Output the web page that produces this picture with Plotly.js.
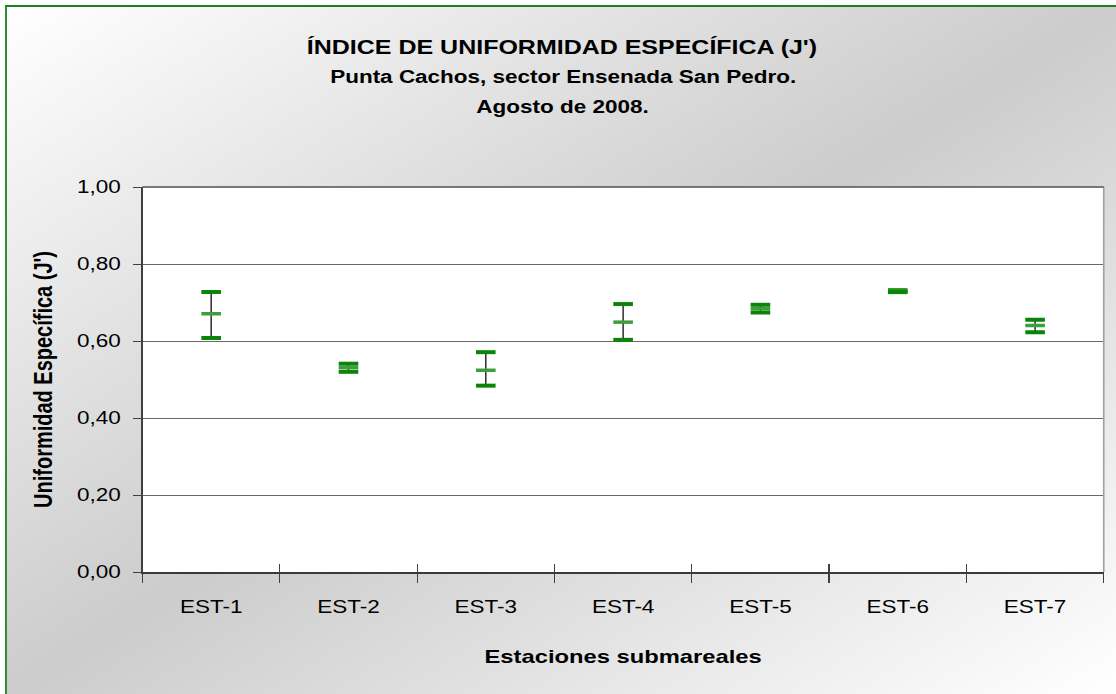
<!DOCTYPE html>
<html>
<head>
<meta charset="utf-8">
<script src="https://cdn.plot.ly/plotly-3.0.1.min.js"></script>
<style>
  html, body { margin: 0; padding: 0; background: #ffffff; overflow: hidden; }
  #bg {
    position: absolute; left: 5px; top: 5px; width: 1111px; height: 689px;
    box-sizing: border-box;
    border-left: 2px solid #2f8f2f; border-top: 2px solid #1f7f1f;
    background: linear-gradient(to bottom right, #ffffff 0%, #cccccc 50%, #ffffff 100%);
  }
  /* the reference is horizontally stretched; reproduce by scaling the chart in x */
  #chart { position: absolute; left: 0; top: 0; width: 893px; height: 694px;
           transform: scaleX(1.25); transform-origin: 0 0; }
</style>
</head>
<body>
<div id="bg"></div>
<div id="chart"></div>
<script>
// Data
const stations = ["EST-1", "EST-2", "EST-3", "EST-4", "EST-5", "EST-6", "EST-7"];
const meanJ  = [0.671, 0.531, 0.524, 0.649, 0.684, 0.7295, 0.640];
const upperJ = [0.727, 0.541, 0.571, 0.696, 0.694, 0.732, 0.655];
const lowerJ = [0.608, 0.520, 0.484, 0.603, 0.674, 0.727, 0.623];
const yTicks = [0, 0.2, 0.4, 0.6, 0.8, 1.0];

const titleText = "ÍNDICE DE UNIFORMIDAD ESPECÍFICA (J')";
const subtitle1 = "Punta Cachos, sector Ensenada San Pedro.";
const subtitle2 = "Agosto de 2008.";
const xTitle = "Estaciones submareales";
const yTitle = "Uniformidad Específica (J')";

const errPlus  = upperJ.map((u, i) => u - meanJ[i]);
const errMinus = lowerJ.map((l, i) => meanJ[i] - l);

const FONT = "Liberation Sans, Arial, sans-serif";
const W = 893, H = 694;
const ML = 113.6, MR = 10.4, MT = 187, MB = 122;
const plotW = W - ML - MR, plotH = H - MT - MB;
const cx = 449.6;                         // title centre (unscaled px)
const ax = (cx - ML) / plotW;             // in plot-paper units
const py = p => (H - MB - p) / plotH;     // pixel row -> plot-paper y

const traces = [
  { // vertical range lines
    type: "scatter", mode: "markers", x: stations, y: meanJ,
    marker: { size: 1, color: "rgba(0,0,0,0)" },
    error_y: { type: "data", symmetric: false, array: errPlus, arrayminus: errMinus,
               color: "#1a1a1a", thickness: 1.1, width: 0 },
    hoverinfo: "skip", showlegend: false
  },
  { // upper caps
    type: "scatter", mode: "markers", x: stations, y: upperJ,
    marker: { symbol: "line-ew", size: 11.2, line: { width: 4, color: "#0a850a" } },
    showlegend: false
  },
  { // lower caps
    type: "scatter", mode: "markers", x: stations, y: lowerJ, xaxis: "x2",
    marker: { symbol: "line-ew", size: 11.2, line: { width: 4, color: "#0a850a" } },
    showlegend: false
  },
  { // mean marker
    type: "scatter", mode: "markers", x: stations, y: meanJ,
    marker: { symbol: "line-ew", size: 11.2, line: { width: 3.5, color: "#3d9e3d" } },
    showlegend: false
  }
];

const layout = {
  width: W, height: H,
  margin: { l: ML, r: MR, t: MT, b: MB },
  paper_bgcolor: "rgba(0,0,0,0)",
  plot_bgcolor: "#ffffff",
  separators: ",.",
  font: { family: FONT, color: "#000000", size: 18 },
  title: {
    text: "<b>" + titleText + "</b>",
    font: { family: FONT, size: 20, color: "#000000" },
    x: cx / W, xref: "container", xanchor: "center",
    y: 1 - 47 / H, yref: "container", yanchor: "middle"
  },
  annotations: [
    { text: "<b>" + subtitle1 + "</b>", xref: "paper", yref: "paper",
      x: ax, y: py(77), xanchor: "center", yanchor: "middle", showarrow: false,
      font: { family: FONT, size: 18, color: "#000000" } },
    { text: "<b>" + subtitle2 + "</b>", xref: "paper", yref: "paper",
      x: ax, y: py(107), xanchor: "center", yanchor: "middle", showarrow: false,
      font: { family: FONT, size: 18, color: "#000000" } }
  ],
  xaxis: {
    type: "category", categoryarray: stations, range: [-0.5, 6.5],
    tickson: "boundaries", ticks: "outside", ticklen: 9, tickcolor: "#404040", tickwidth: 1,
    showline: true, linecolor: "#3a3a3a", linewidth: 2,
    showgrid: false, zeroline: false,
    tickfont: { family: FONT, size: 18, color: "#000000" },
    ticklabelstandoff: 17,
    title: { text: "<b>" + xTitle + "</b>", font: { family: FONT, size: 19, color: "#000000" }, standoff: 34 }
  },
  xaxis2: {
    type: "category", categoryarray: stations, range: [-0.5, 6.5],
    overlaying: "x", anchor: "y", side: "bottom",
    tickson: "boundaries", ticks: "inside", ticklen: 8, tickcolor: "#404040", tickwidth: 1,
    showticklabels: false, showline: false, showgrid: false, zeroline: false
  },
  yaxis: {
    range: [0, 1], tickvals: yTicks, tickformat: ".2f",
    ticks: "outside", ticklen: 6.4, tickcolor: "#404040",
    showline: true, linecolor: "#404040", linewidth: 1.3,
    showgrid: true, gridcolor: "#6a6a6a", gridwidth: 1, zeroline: false,
    tickfont: { family: FONT, size: 18, color: "#000000" },
    ticklabelstandoff: 6,
    title: { text: "<b>" + yTitle + "</b>", font: { family: FONT, size: 20, color: "#000000" }, standoff: 14 }
  },
  shapes: [
    { type: "line", xref: "paper", yref: "paper", x0: 1, x1: 1, y0: 0, y1: 1,
      line: { color: "#a0a0a0", width: 1.3 } },
    { type: "line", xref: "paper", yref: "paper", x0: 0, x1: 1, y0: 1, y1: 1,
      line: { color: "#505050", width: 1.5 } }
  ]
};

Plotly.newPlot("chart", traces, layout, { staticPlot: true });
</script>
</body>
</html>
